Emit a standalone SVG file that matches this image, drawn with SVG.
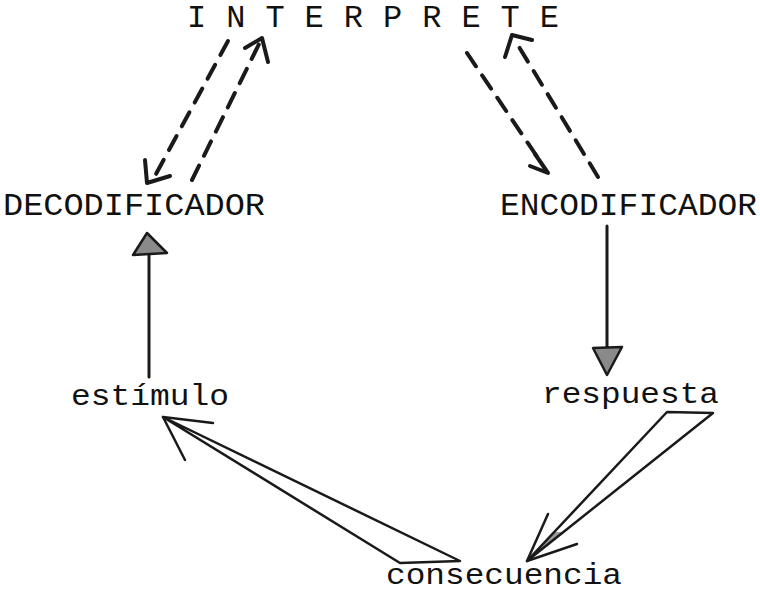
<svg xmlns="http://www.w3.org/2000/svg" width="760" height="600" viewBox="0 0 760 600">
  <defs>
    <style>
      .lbl { font-family: "Liberation Mono", "Courier New", monospace; font-size: 32px; fill: #111111; }
      .low { font-size: 29px; }
      .dash { fill: none; stroke: #1a1a1a; stroke-width: 4; stroke-dasharray: 16 11; stroke-linecap: round; }
      .head { fill: none; stroke: #1a1a1a; stroke-width: 4; stroke-linecap: round; stroke-linejoin: round; }
      .solid { fill: none; stroke: #1a1a1a; stroke-width: 3; stroke-linecap: round; }
      .tri { fill: #8a8a8a; stroke: #1a1a1a; stroke-width: 2.5; stroke-linejoin: round; }
      .big { fill: none; stroke: #1a1a1a; stroke-width: 2.5; stroke-linejoin: round; stroke-linecap: round; }
      .bigfill { fill: #9a9a9a; stroke: none; }
    </style>
  </defs>
  <rect width="760" height="600" fill="#ffffff"/>

  <g id="interprete">
    <text class="lbl" x="187" y="27" textLength="372" lengthAdjust="spacing">I N T E R P R E T E</text>
  </g>
  <g id="decodificador">
    <text class="lbl" x="3" y="215" textLength="262" lengthAdjust="spacingAndGlyphs">DECODIFICADOR</text>
  </g>
  <g id="encodificador">
    <text class="lbl" x="500" y="215" textLength="257" lengthAdjust="spacingAndGlyphs">ENCODIFICADOR</text>
  </g>
  <g id="estimulo">
    <text class="lbl low" x="71" y="405" textLength="158" lengthAdjust="spacingAndGlyphs">estímulo</text>
  </g>
  <g id="respuesta">
    <text class="lbl low" x="542" y="403" textLength="177" lengthAdjust="spacingAndGlyphs">respuesta</text>
  </g>
  <g id="consecuencia">
    <text class="lbl low" x="386" y="584" textLength="236" lengthAdjust="spacingAndGlyphs">consecuencia</text>
  </g>

  <g id="connectors">
    <!-- INTERPRETE -> DECODIFICADOR (dashed) -->
    <line class="dash" x1="228" y1="41" x2="156" y2="174"/>
    <polyline class="head" points="145,160 147,183 170,176"/>
    <!-- DECODIFICADOR -> INTERPRETE (dashed) -->
    <line class="dash" x1="192" y1="180" x2="260" y2="42"/>
    <polyline class="head" points="245,48 262,38 268,62"/>
    <!-- INTERPRETE -> ENCODIFICADOR (dashed) -->
    <line class="dash" x1="467" y1="53" x2="542" y2="164"/>
    <polyline class="head" points="535,154 548,173 530,166"/>
    <!-- ENCODIFICADOR -> INTERPRETE (dashed) -->
    <line class="dash" x1="598" y1="177" x2="516" y2="42"/>
    <polyline class="head" points="505,57 512,35 532,40"/>

    <!-- estimulo -> DECODIFICADOR -->
    <line class="solid" x1="149" y1="377" x2="149" y2="252"/>
    <polygon class="tri" points="147,233 133,255 167,253"/>
    <!-- ENCODIFICADOR -> respuesta -->
    <line class="solid" x1="607" y1="226" x2="607" y2="349"/>
    <polygon class="tri" points="593,348 622,347 607,375"/>

    <!-- respuesta -> consecuencia (hollow) -->
    <polygon class="bigfill" points="527,561 554,532 564,532"/>
    <polygon class="big" points="667,412 713,413 527,561"/>
    <polyline class="big" points="548,514 527,561 577,544"/>

    <!-- consecuencia -> estimulo (hollow) -->
    <polygon class="big" points="163,417 460,561 400,563"/>
    <polyline class="big" points="213,423 163,417 185,460"/>
  </g>
</svg>
